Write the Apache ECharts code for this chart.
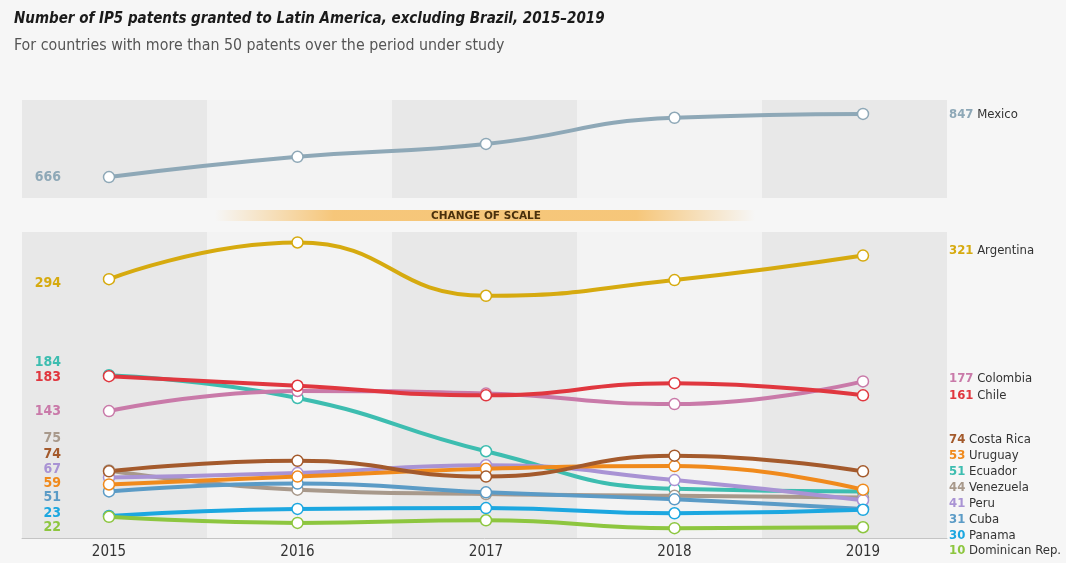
<!DOCTYPE html>
<html>
<head>
<meta charset="utf-8">
<script src="https://cdn.jsdelivr.net/npm/echarts@6/dist/echarts.min.js"></script>
<style>
html,body{margin:0;padding:0;background:#f6f6f6;}
#chart{width:1066px;height:563px;}
</style>
</head>
<body>
<div id="chart"></div>
<script>
const years = ['2015', '2016', '2017', '2018', '2019'];
const mexico = [666, 724, 761, 836, 847];
const argentina = [294, 336, 275, 293, 321];
const colombia = [143, 166, 163, 151, 177];
const chile = [183, 172, 161, 175, 161];
const ecuador = [184, 158, 97, 54, 51];
const costaRica = [74, 86, 68, 92, 74];
const uruguay = [59, 68, 77, 80, 53];
const venezuela = [75, 53, 48, 46, 44];
const peru = [67, 72, 81, 64, 41];
const cuba = [51, 60, 50, 42, 31];
const panama = [23, 31, 32, 26, 30];
const dominican = [22, 15, 18, 9, 10];

const countries = [
  {name: 'Mexico', data: mexico, color: '#8ea8b7', panel: 0},
  {name: 'Argentina', data: argentina, color: '#d6aa0f', panel: 1},
  {name: 'Ecuador', data: ecuador, color: '#3dbdb0', panel: 1},
  {name: 'Colombia', data: colombia, color: '#c97aa9', panel: 1},
  {name: 'Chile', data: chile, color: '#e0373f', panel: 1},
  {name: 'Venezuela', data: venezuela, color: '#a8998b', panel: 1},
  {name: 'Cuba', data: cuba, color: '#5b9bc6', panel: 1},
  {name: 'Peru', data: peru, color: '#a993d4', panel: 1},
  {name: 'Uruguay', data: uruguay, color: '#f08a1c', panel: 1},
  {name: 'Costa Rica', data: costaRica, color: '#a45a2c', panel: 1},
  {name: 'Panama', data: panama, color: '#1ca7e0', panel: 1},
  {name: 'Dominican Rep.', data: dominican, color: '#8dc63f', panel: 1}
];

// label layout (pixel rows for the start/end labels)
const leftLabelY = {Mexico: 177, Argentina: 283, Ecuador: 362, Chile: 377, Colombia: 411,
  Venezuela: 438, 'Costa Rica': 454, Peru: 469, Uruguay: 483, Cuba: 497, Panama: 513, 'Dominican Rep.': 527};
const rightLabelY = {Mexico: 115, Argentina: 251, Colombia: 379, Chile: 396, 'Costa Rica': 440,
  Uruguay: 456, Ecuador: 472, Venezuela: 488, Peru: 504, Cuba: 520, Panama: 536, 'Dominican Rep.': 551};

const FONT = "'Liberation Sans Narrow', 'DejaVu Sans Condensed', sans-serif";

const chart = echarts.init(document.getElementById('chart'), null, {renderer: 'canvas'});

const graphics = [
  {type: 'text', left: 14, top: 12, style: {text: 'Number of IP5 patents granted to Latin America, excluding Brazil, 2015\u20132019',
    font: "italic bold 15px " + FONT, fill: '#1a1a1a'}},
  {type: 'text', left: 14, top: 38, style: {text: 'For countries with more than 50 patents over the period under study',
    font: "15.8px " + FONT, fill: '#555'}},
  {type: 'rect', shape: {x: 215, y: 210, width: 540, height: 11}, z: 5,
    style: {fill: new echarts.graphic.LinearGradient(0, 0, 1, 0, [
      {offset: 0, color: 'rgba(246,190,100,0)'},
      {offset: 0.22, color: 'rgba(246,190,100,0.85)'},
      {offset: 0.78, color: 'rgba(246,190,100,0.85)'},
      {offset: 1, color: 'rgba(246,190,100,0)'}])}},
  {type: 'text', x: 486, y: 216, z: 6, style: {text: 'CHANGE OF SCALE', font: "bold 10.5px 'DejaVu Sans'",
    fill: '#4a300c', align: 'center', verticalAlign: 'middle'}}
];

countries.forEach(c => {
  graphics.push({type: 'text', x: 61, y: leftLabelY[c.name], z: 10,
    style: {text: String(c.data[0]), font: "bold 14px " + FONT, fill: c.color, align: 'right', verticalAlign: 'middle'}});
  graphics.push({type: 'text', x: 949, y: rightLabelY[c.name], z: 10,
    style: {text: '{v|' + c.data[c.data.length - 1] + '}{n| ' + c.name + '}', verticalAlign: 'middle',
      rich: {v: {font: "bold 13px " + FONT, fill: c.color}, n: {font: "13px " + FONT, fill: '#333'}}}});
});

const bgAxis = (gi, line) => ({
  type: 'category', gridIndex: gi, data: years, boundaryGap: true,
  axisLabel: {show: false}, axisTick: {show: false},
  axisLine: {show: line, lineStyle: {color: '#c4c4c4', width: 1}},
  splitArea: {show: true, areaStyle: {color: ['#e8e8e8', '#f3f3f3']}}
});

const option = {
  backgroundColor: '#f6f6f6',
  animation: false,
  graphic: graphics,
  grid: [
    {left: 109, width: 754, top: 100, height: 98},
    {left: 109, width: 754, top: 232, height: 304},
    {left: 22, width: 925, top: 100, height: 98},
    {left: 22, width: 925, top: 232, height: 306}
  ],
  xAxis: [
    {type: 'category', gridIndex: 0, data: years, boundaryGap: false, show: false},
    {type: 'category', gridIndex: 1, data: years, boundaryGap: false,
      axisLine: {show: false}, axisTick: {show: false},
      axisLabel: {margin: 9, fontSize: 15, color: '#333', fontFamily: FONT}},
    bgAxis(2, false),
    bgAxis(3, true)
  ],
  yAxis: [
    {type: 'value', gridIndex: 0, min: 606, max: 887, show: false},
    {type: 'value', gridIndex: 1, min: 0, max: 348, show: false},
    {type: 'value', gridIndex: 2, show: false},
    {type: 'value', gridIndex: 3, show: false}
  ],
  series: countries.map(c => ({
    type: 'line', name: c.name, data: c.data,
    xAxisIndex: c.panel, yAxisIndex: c.panel,
    smooth: 0.5, symbol: 'circle', symbolSize: 11,
    lineStyle: {color: c.color, width: 4},
    itemStyle: {color: '#ffffff', borderColor: c.color, borderWidth: 1.5},
    emphasis: {disabled: true}
  }))
};

chart.setOption(option);
</script>
</body>
</html>
